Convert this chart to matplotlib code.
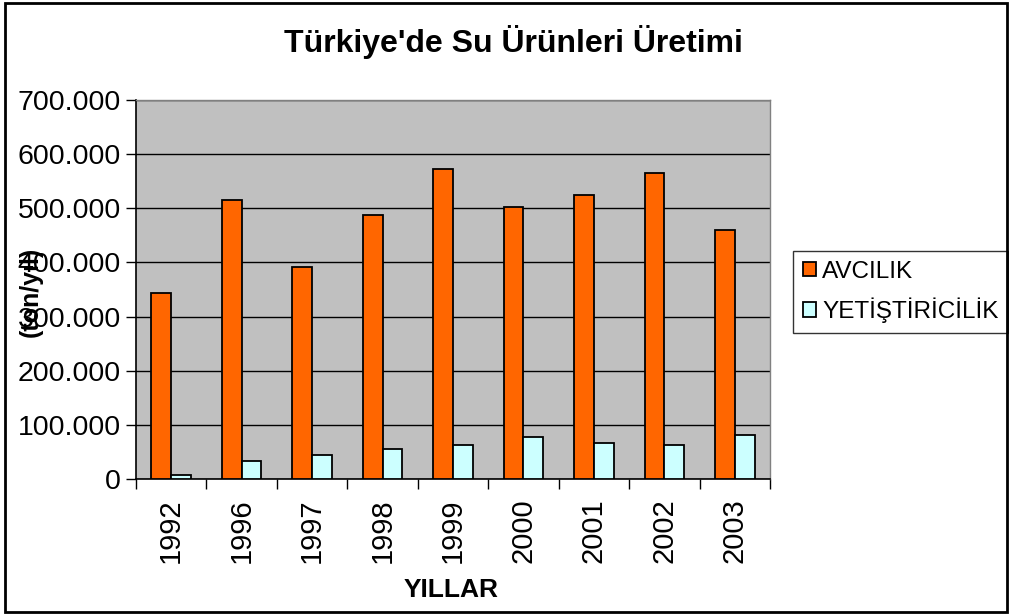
import matplotlib
matplotlib.use("Agg")
import matplotlib.pyplot as plt
import numpy as np
from matplotlib.patches import Rectangle
from matplotlib.ticker import FuncFormatter, MultipleLocator

years = ["1992", "1996", "1997", "1998", "1999", "2000", "2001", "2002", "2003"]
avcilik = [344000, 515000, 392000, 488000, 573000, 503000, 525000, 566000, 459000]
yetistiricilik = [6500, 33000, 44500, 56000, 63000, 78000, 67000, 63000, 81000]
series_names = ["AVCILIK", "YETİŞTİRİCİLİK"]
title = "Türkiye'de Su Ürünleri Üretimi"
xlabel = "YILLAR"
ylabel = "(ton/yıl)"

plt.rcParams['font.family'] = ['Liberation Sans', 'DejaVu Sans']

W, H = 1009, 614
fig = plt.figure(figsize=(W / 100, H / 100), dpi=100)
fig.patch.set_facecolor("white")

# plot area in pixels
left, right, top, bottom = 136, 770, 100, 479
ax = fig.add_axes([left / W, 1 - bottom / H, (right - left) / W, (bottom - top) / H])
ax.set_facecolor("#C0C0C0")

x = np.arange(len(years))
bw = 0.28
ax.bar(x - bw / 2, avcilik, bw, color="#FF6600", edgecolor="black", linewidth=1.3,
       label=series_names[0], zorder=3)
ax.bar(x + bw / 2, yetistiricilik, bw, color="#CCFFFF", edgecolor="black", linewidth=1.3,
       label=series_names[1], zorder=3)

ax.set_xlim(-0.5, len(years) - 0.5)
ax.set_ylim(0, 700000)
ax.yaxis.set_major_locator(MultipleLocator(100000))
ax.yaxis.set_major_formatter(FuncFormatter(lambda v, p: f"{int(v):,}".replace(",", ".")))
ax.grid(axis="y", color="black", linewidth=1.0, zorder=1)
ax.set_axisbelow(True)

ax.set_xticks(np.arange(len(years) + 1) - 0.5, minor=False)
ax.set_xticklabels([])
ax.set_xticks(x, minor=True)
ax.set_xticklabels(years, minor=True, rotation=90, fontsize=21)
ax.tick_params(axis="x", which="minor", length=0, pad=14)
ax.tick_params(axis="x", which="major", length=7, width=1, direction="out")
ax.tick_params(axis="y", length=7, width=1, direction="out", labelsize=20.5, pad=4)

for s in ["left", "bottom"]:
    ax.spines[s].set_color("black")
    ax.spines[s].set_linewidth(1.2)
for s in ["top", "right"]:
    ax.spines[s].set_color("#808080")
    ax.spines[s].set_linewidth(1.0)

fig.text(513 / W, 1 - 42 / H, title, ha="center", va="center",
         fontsize=23, fontweight="bold")
fig.text(451 / W, 1 - 590 / H, xlabel, ha="center", va="center",
         fontsize=19, fontweight="bold")
fig.text(31 / W, 1 - 292 / H, ylabel, ha="center", va="center", rotation=90,
         fontsize=18, fontweight="bold")

leg = ax.legend(loc="upper left", bbox_to_anchor=(793 / W, 1 - 251 / H),
                bbox_transform=fig.transFigure, frameon=True, fancybox=False,
                edgecolor="black", fontsize=17.5, handlelength=0.55, handleheight=0.55,
                handletextpad=0.25, borderpad=0.4, labelspacing=0.6, borderaxespad=0)
leg.get_frame().set_linewidth(1.0)

fig.patches.append(Rectangle((5 / W, 2 / H), (1007 - 5) / W, (611 - 2) / H,
                             transform=fig.transFigure, fill=False,
                             edgecolor="black", linewidth=2))

fig.savefig("out.png", dpi=100)
